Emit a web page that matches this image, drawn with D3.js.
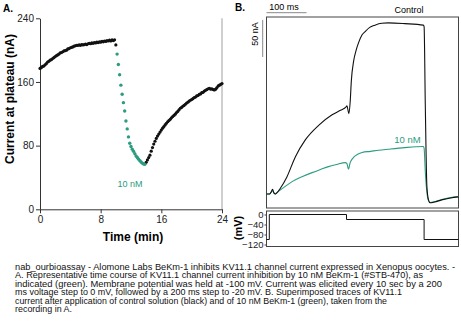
<!DOCTYPE html>
<html>
<head>
<meta charset="utf-8">
<script src="https://cdnjs.cloudflare.com/ajax/libs/d3/7.8.5/d3.min.js"></script>
<style>
  body { margin: 0; background: #fff; }
  svg text { font-family: "Liberation Sans", Arial, sans-serif; }
  .narrow { font-family: "Liberation Sans Narrow", "Arial Narrow", "Liberation Sans", sans-serif; }
</style>
</head>
<body>
<div id="chart"></div>
<script>

// ---- data, panel A (one sample every 10 s) ----
const sampleSec = 10
const control1Start = 0
const control1 = [177,178,179.5,180,181.5,183,185,186,187.5,188,189.5,190.5,192,193,194,195,196.5,197,198,199,
  199.5,200,201.5,202,203,203.5,204,205,205.5,206,206,206.5,206,207,206.5,207,207.5,207,208,208.5,
  208,209,208.5,209.5,209,210,209.5,210.5,210,211,210.5,211.5,211,212,211.5,212.5,211.5,213,212,213,206.5]
const toxinStart = 61
const toxin = [195,182,169,156,144.5,134,123.5,111,101,91,83,79,75.5,73,70,67,65,63,61,59.5,58,57,56.5]
const control2Start = 84
const control2 = [59,62,65,68,73,77.5,82,85.5,89,92,94.5,97,99.5,102,104,106,108,110,111.5,113,
  115,116.5,118,119.5,121.5,123,125,127,128,129.5,130.5,132,133.5,134.5,136,137,138,139,140.5,141,
  142.5,143,144.5,145,146.5,147,148.5,149.5,150.5,151.5,152,151,151.5,150.5,150,151,153,155,156,157,158]
const yTicksA = [0, 80, 160, 240]
const xTicksA = [0, 8, 16, 24]

// ---- data, panel B (time in ms, current in nA) ----
const ctrlTime = [0,8,12,15,19,22,26,35,51,72,97,131,164,185,199,201,206,209.5,212,218,224,230,239,246,258,271,
  288,304,346,392,394,397,401,405,409,420,438,460,480]
const ctrlCurrent = [0,0,3,6.3,1,0,1.5,8,23,50,73,93,107,113,117.5,119,108.5,127,152,180,194,204,215,219,225,228,
  230.5,231,230,228,226,120,10,-8,-12,-11,-8,-5.5,-4]
const toxTime = [0,8,12,15,19,22,26,40,64,90,114,135,155,175,197,201,205,209,214,218,228,239,260,280,304,346,
  392,394,397,401,405,409,420,438,460,480]
const toxCurrent = [0,0,2.5,4.5,1,0,1.8,7.5,16.6,23.5,28.8,33,36.9,39.7,42.3,41,33.5,42,47,49.6,53.5,56,57.5,59,
  60.4,62.6,64,62,30,2,-9,-11.5,-10.5,-7.5,-5,-3.5]
const voltTime = [0, 7, 200, 394, 480]
const voltLevel = [-100, 0, -20, -100, -100]
const voltTicks = [0, -40, -80, -120]

const caption = [
  "nab_ourbioassay - Alomone Labs BeKm-1 inhibits KV11.1 channel current expressed in Xenopus oocytes. -",
  "A. Representative time course of KV11.1 channel current inhibition by 10 nM BeKm-1 (#STB-470), as",
  "indicated (green). Membrane potential was held at -100 mV. Current was elicited every 10 sec by a 200",
  "ms voltage step to 0 mV, followed by a 200 ms step to -20 mV. B. Superimposed traces of KV11.1",
  "current after application of control solution (black) and of 10 nM BeKm-1 (green), taken from the",
  "recording in A."
]
const captionWidths = [440, 408, 427, 387, 372, 57]

const green = "#2b9c80"

const svg = d3.select("#chart").append("svg")
  .attr("width", 461)
  .attr("height", 333)

// ================= Panel A =================
const xA = d3.scaleLinear().domain([0, 24]).range([40, 222])
const yA = d3.scaleLinear().domain([0, 240]).range([209.3, 18.3])

function toPoints(values, start) {
  return values.map((v, k) => ({t: (start + k) * sampleSec / 60, v: v}))
}

const gA = svg.append("g")

gA.append("line")
  .attr("x1", xA(24)).attr("x2", xA(24))
  .attr("y1", yA(240)).attr("y2", yA(0))
  .attr("stroke", "#a0a0a0")

const axL = gA.append("g")
  .attr("transform", `translate(${xA(0)},0)`)
  .call(d3.axisLeft(yA).tickValues(yTicksA).tickSize(4).tickPadding(2).tickSizeOuter(0))
const axB = gA.append("g")
  .attr("transform", `translate(0,${yA(0)})`)
  .call(d3.axisBottom(xA).tickValues(xTicksA).tickSize(4).tickPadding(3).tickSizeOuter(0))

for (const ax of [axL, axB]) {
  ax.selectAll("path, line").attr("stroke", "#333")
  ax.selectAll("text").attr("class", "narrow").attr("font-size", 10).attr("fill", "#222")
}

gA.selectAll(".ctrl")
  .data(toPoints(control1, control1Start).concat(toPoints(control2, control2Start)))
  .enter().append("circle")
  .attr("cx", d => xA(d.t))
  .attr("cy", d => yA(d.v))
  .attr("r", 1.6)
  .attr("fill", "#111")

gA.selectAll(".tox")
  .data(toPoints(toxin, toxinStart))
  .enter().append("circle")
  .attr("cx", d => xA(d.t))
  .attr("cy", d => yA(d.v))
  .attr("r", 1.7)
  .attr("fill", green)

gA.append("text").attr("x", 3).attr("y", 12)
  .attr("font-size", 10).attr("font-weight", "bold").text("A.")
gA.append("text").attr("class", "narrow")
  .attr("x", 130).attr("y", 187).attr("text-anchor", "middle")
  .attr("font-size", 9).attr("fill", green).text("10 nM")
gA.append("text")
  .attr("x", 133).attr("y", 241).attr("text-anchor", "middle")
  .attr("font-size", 12).attr("font-weight", "bold").text("Time (min)")
gA.append("text")
  .attr("transform", "translate(14,99) rotate(-90)")
  .attr("text-anchor", "middle")
  .attr("font-size", 12).attr("font-weight", "bold").text("Current at plateau (nA)")

// ================= Panel B =================
const xB = d3.scaleLinear().domain([0, 480]).range([266.5, 458.5])
const yB = d3.scaleLinear().domain([-19, 239]).range([208, 17])
const yV = d3.scaleLinear().domain([-128, 14]).range([246.5, 211])

const gB = svg.append("g")

gB.append("rect")
  .attr("x", xB(0)).attr("y", yB(239))
  .attr("width", xB(480) - xB(0)).attr("height", yB(-19) - yB(239))
  .attr("fill", "none").attr("stroke", "#444")
gB.append("rect")
  .attr("x", xB(0)).attr("y", yV(14))
  .attr("width", xB(480) - xB(0)).attr("height", yV(-128) - yV(14))
  .attr("fill", "none").attr("stroke", "#444")

const line = d3.line()
  .x(d => xB(d[0]))
  .y(d => yB(d[1]))
  .curve(d3.curveMonotoneX)

gB.append("path")
  .datum(toxTime.map((t, i) => [t, toxCurrent[i]]))
  .attr("d", line)
  .attr("fill", "none").attr("stroke", green).attr("stroke-width", 1.1)
gB.append("path")
  .datum(ctrlTime.map((t, i) => [t, ctrlCurrent[i]]))
  .attr("d", line)
  .attr("fill", "none").attr("stroke", "#111").attr("stroke-width", 1.1)

const vLine = d3.line()
  .x(d => xB(d[0]))
  .y(d => yV(d[1]))
  .curve(d3.curveStepAfter)
gB.append("path")
  .datum(voltTime.map((t, i) => [t, voltLevel[i]]))
  .attr("d", vLine)
  .attr("fill", "none").attr("stroke", "#111").attr("stroke-width", 1)

const axV = gB.append("g")
  .attr("transform", `translate(${xB(0)},0)`)
  .call(d3.axisLeft(yV).tickValues(voltTicks).tickSize(2).tickPadding(1))
axV.select(".domain").remove()
axV.selectAll("line").attr("stroke", "#444")
axV.selectAll("text").attr("class", "narrow").attr("font-size", 9.5).attr("fill", "#222")

// scale bars: 100 ms and 50 nA
gB.append("line")
  .attr("x1", xB(0)).attr("x2", xB(100))
  .attr("y1", 12.7).attr("y2", 12.7)
  .attr("stroke", "#888")
gB.append("line")
  .attr("x1", 262.7).attr("x2", 262.7)
  .attr("y1", yB(235)).attr("y2", yB(185))
  .attr("stroke", "#888")

gB.append("text").attr("x", 235).attr("y", 11)
  .attr("font-size", 10).attr("font-weight", "bold").text("B.")
gB.append("text").attr("class", "narrow")
  .attr("x", 284).attr("y", 10).attr("text-anchor", "middle")
  .attr("font-size", 9).text("100 ms")
gB.append("text").attr("class", "narrow")
  .attr("x", 409).attr("y", 13).attr("text-anchor", "middle")
  .attr("font-size", 9).text("Control")
gB.append("text").attr("class", "narrow")
  .attr("transform", "translate(258,34) rotate(-90)")
  .attr("text-anchor", "middle")
  .attr("font-size", 9).text("50 nA")
gB.append("text").attr("class", "narrow")
  .attr("x", 407.5).attr("y", 143).attr("text-anchor", "middle")
  .attr("font-size", 9.5).attr("fill", green).text("10 nM")
gB.append("text")
  .attr("transform", "translate(242,228) rotate(-90)")
  .attr("text-anchor", "middle")
  .attr("font-size", 11).attr("font-weight", "bold").text("(mV)")

// ================= Caption =================
svg.append("g").selectAll("text")
  .data(caption)
  .enter().append("text")
  .attr("x", 15)
  .attr("y", (d, i) => 270 + i * 8.4)
  .attr("font-size", 8.2)
  .attr("fill", "#111")
  .attr("textLength", (d, i) => captionWidths[i])
  .attr("lengthAdjust", "spacingAndGlyphs")
  .text(d => d)

</script>
</body>
</html>
